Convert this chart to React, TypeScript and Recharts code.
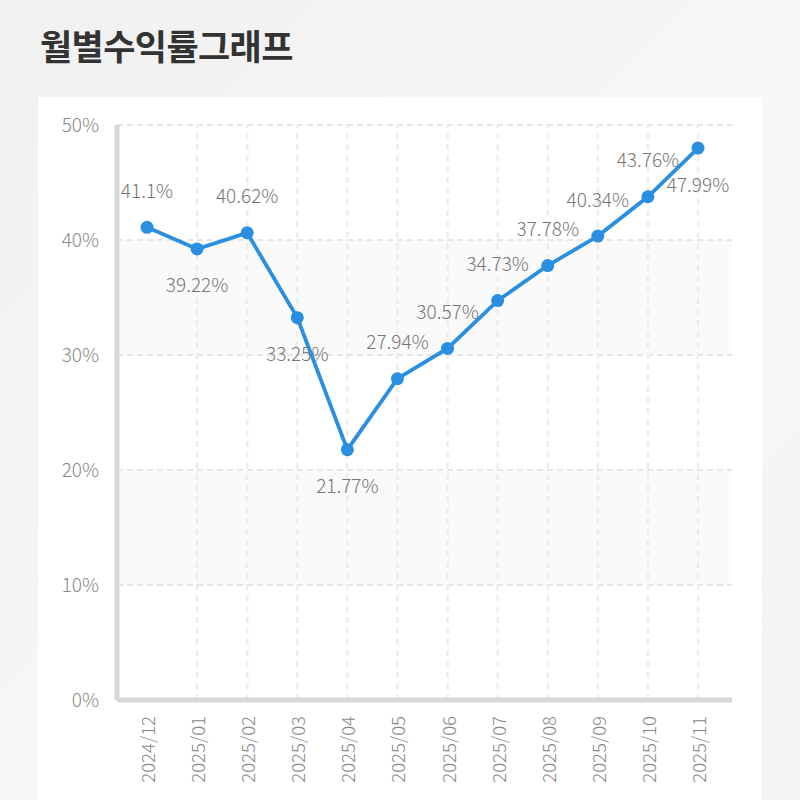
import React from 'react';
import { LineChart, Line, XAxis, YAxis, CartesianGrid, ReferenceLine } from 'recharts';

const months = ['2024/12', '2025/01', '2025/02', '2025/03', '2025/04', '2025/05', '2025/06', '2025/07', '2025/08', '2025/09', '2025/10', '2025/11'];
const returns = [41.1, 39.22, 40.62, 33.25, 21.77, 27.94, 30.57, 34.73, 37.78, 40.34, 43.76, 47.99];
const yTicks = [0, 10, 20, 30, 40, 50];
const labelSide = ['top', 'bottom', 'top', 'bottom', 'bottom', 'top', 'top', 'top', 'top', 'top', 'top', 'bottom'];

const data = months.map((m, i) => ({ month: m, value: returns[i] }));

const FONT = '"Noto Sans CJK KR", "Noto Sans", sans-serif';
const LINE = '#2a8fe0';

const PointLabel = (props: any) => {
  const { x, y, value, index } = props;
  const above = labelSide[index] === 'top';
  return (
    <text
      x={x}
      y={above ? y - 38 : y + 35}
      textAnchor="middle"
      dominantBaseline="central"
      fontSize={19}
      fill="#777"
      fontFamily={FONT}
      fontWeight={300}
    >
      {`${value}%`}
    </text>
  );
};

const XTick = (props: any) => {
  const { x, y, payload } = props;
  return (
    <text
      x={x}
      y={y}
      transform={`rotate(-90, ${x}, ${y})`}
      textAnchor="end"
      dominantBaseline="central"
      fontSize={18.5}
      fill="#888"
      fontFamily={FONT}
      fontWeight={300}
    >
      {payload.value}
    </text>
  );
};

export default function App() {
  return (
    <div
      style={{
        position: 'absolute',
        left: 0,
        top: 0,
        width: 800,
        height: 800,
        overflow: 'hidden',
        background: 'linear-gradient(135deg, #f1f1f1 0%, #f7f7f7 60%, #f3f3f3 100%)',
        fontFamily: FONT,
      }}
    >
      <div
        style={{
          position: 'absolute',
          left: 40,
          top: 25,
          fontSize: 35,
          lineHeight: '40px',
          fontWeight: 700,
          color: '#333',
          letterSpacing: -0.6,
        }}
      >
        월별수익률그래프
      </div>
      <div
        style={{
          position: 'absolute',
          left: 38,
          top: 97,
          width: 724,
          height: 720,
          background: '#fff',
        }}
      />
      <div style={{ position: 'absolute', left: 0, top: 0 }}>
        <LineChart width={800} height={800} data={data} margin={{ top: 125, right: 68, bottom: 0, left: 0 }}>
          <CartesianGrid
            vertical={false}
            stroke="#dedede"
            strokeDasharray="6 4"
            strokeWidth={1.5}
            horizontalFill={['#ffffff', '#fafafa']}
            fillOpacity={1}
          />
          {months.slice(1).map((m) => (
            <ReferenceLine key={m} x={m} stroke="#ededed" strokeWidth={2.5} strokeDasharray="6 5" />
          ))}
          <XAxis
            dataKey="month"
            height={100}
            padding={{ left: 30, right: 34 }}
            axisLine={{ stroke: '#d8d8d8', strokeWidth: 5 }}
            tickLine={false}
            tick={<XTick />}
            tickMargin={10}
            interval={0}
          />
          <YAxis
            width={117}
            domain={[0, 50]}
            ticks={yTicks}
            tickFormatter={(v: number) => `${v}%`}
            axisLine={{ stroke: '#d8d8d8', strokeWidth: 5 }}
            tickLine={false}
            tickMargin={12}
            tick={{ fontSize: 19, fill: '#888', fontFamily: FONT, fontWeight: 300 }}
          />
          <Line
            type="linear"
            dataKey="value"
            stroke={LINE}
            strokeWidth={3.8}
            dot={{ r: 6.5, fill: LINE, stroke: 'none' }}
            activeDot={false}
            label={<PointLabel />}
            isAnimationActive={false}
          />
        </LineChart>
      </div>
    </div>
  );
}
